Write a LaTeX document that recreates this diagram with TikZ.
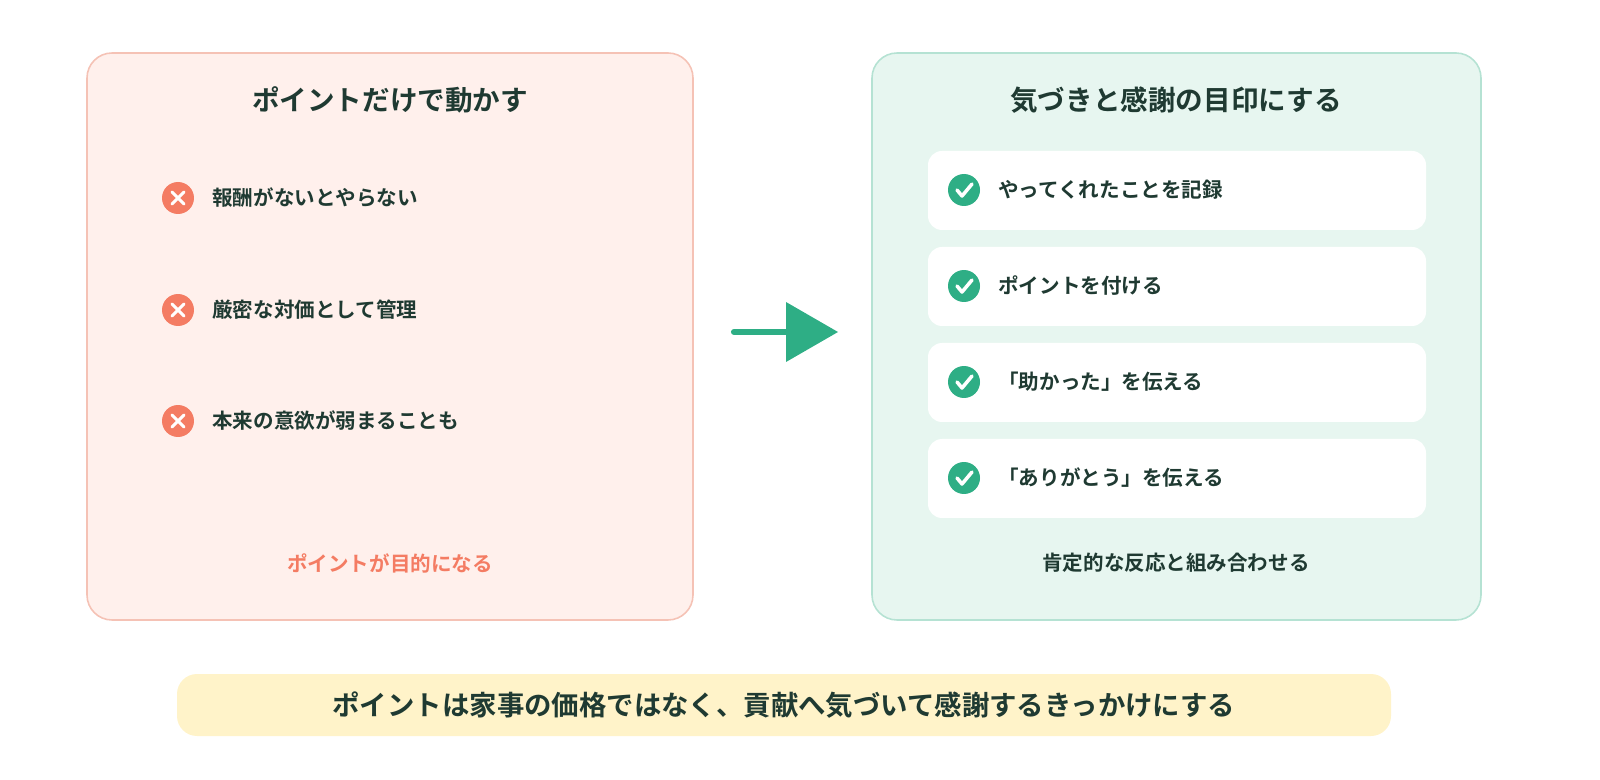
\documentclass[tikz,border=0pt]{standalone}
\usepackage{fontspec}
\setmainfont{Noto Sans CJK JP}[BoldFont={* Bold}]
\usetikzlibrary{positioning}
\definecolor{ink}{HTML}{1F3A32}
\definecolor{coral}{HTML}{F47C63}
\definecolor{green}{HTML}{2EAE85}
\definecolor{pinkbg}{HTML}{FFF0EC}
\definecolor{pinkline}{HTML}{F5C2B5}
\definecolor{mintbg}{HTML}{E7F6F0}
\definecolor{mintline}{HTML}{B5E2D3}
\definecolor{cream}{HTML}{FFF3C9}

\begin{document}
\begin{tikzpicture}[x=0.02cm, y=-0.02cm,
    panel/.style={draw, line width=0.9pt, rounded corners=0.5cm},
    title/.style={font=\bfseries\fontsize{15.7}{18}\selectfont, text=ink},
    item/.style={font=\bfseries\fontsize{11.7}{14}\selectfont, text=ink, anchor=west, inner sep=0pt},
    card/.style={fill=white, rounded corners=0.28cm},
    badge/.style={circle, minimum size=0.64cm, inner sep=0pt}]
    \useasboundingbox (0,0) rectangle (1600,780);

    % Left panel
    \draw[panel, draw=pinkline, fill=pinkbg] (87,53) rectangle (693,620);
    \node (Ltitle) [title] at (390,100) {ポイントだけで動かす};
    \foreach \y/\t [count=\i] in {198/報酬がないとやらない, 310/厳密な対価として管理, 421/本来の意欲が弱まることも} {
        \node (x\i) [badge, fill=coral] at (178,\y) {};
        \draw[white, line width=1.8pt, line cap=round]
            ([shift={(-6,-6)}]x\i.center) -- ([shift={(6,6)}]x\i.center)
            ([shift={(-6,6)}]x\i.center) -- ([shift={(6,-6)}]x\i.center);
        \node (l\i) [item] at (212,\y) {\t};
    }
    \node (Lfoot) [item, anchor=center, text=coral] at (390,563) {ポイントが目的になる};

    % Arrow
    \coordinate (a0) at (734,332);
    \coordinate (a1) at (792,332);
    \draw[green, line width=3.5pt, line cap=round] (a0) -- (a1);
    \fill[green] (786,302) -- (838,332) -- (786,362) -- cycle;

    % Right panel
    \draw[panel, draw=mintline, fill=mintbg] (872,53) rectangle (1481,620);
    \node (Rtitle) [title] at (1176,100) {気づきと感謝の目印にする};
    \foreach \y/\t [count=\i] in {190/やってくれたことを記録, 286/ポイントを付ける, 382/「助かった」を伝える, 478/「ありがとう」を伝える} {
        \fill[card] (928,\y-39) rectangle (1426,\y+40);
        \node (c\i) [badge, fill=green] at (964,\y) {};
        \draw[white, line width=2pt, line cap=round, line join=round]
            ([shift={(-7,0)}]c\i.center) -- ([shift={(-2,6)}]c\i.center) -- ([shift={(8,-6)}]c\i.center);
        \node (r\i) [item] at (998,\y) {\t};
    }
    \node (Rfoot) [item, anchor=center] at (1176,563) {肯定的な反応と組み合わせる};

    % Bottom banner
    \fill[cream, rounded corners=0.4cm] (177,674) rectangle (1391,736);
    \node (msg) [title, font=\bfseries\fontsize{15.6}{18}\selectfont] at (784,705) {ポイントは家事の価格ではなく、貢献へ気づいて感謝するきっかけにする};
\end{tikzpicture}
\end{document}
